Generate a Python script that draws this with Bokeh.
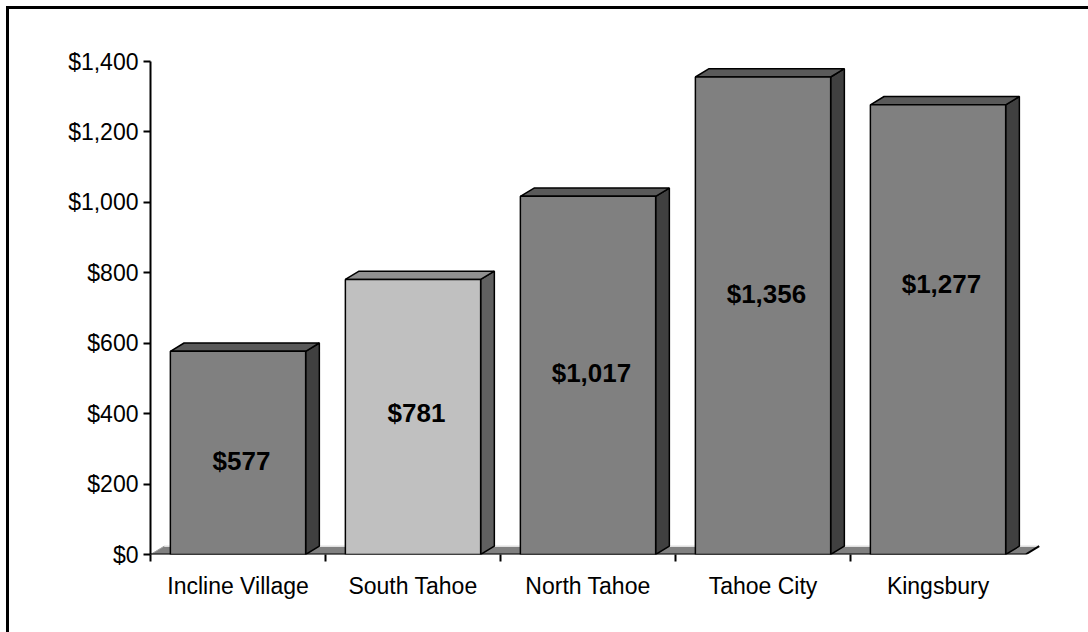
from bokeh.plotting import figure
from bokeh.models import FixedTicker, NumeralTickFormatter, Range1d, ColumnDataSource
from bokeh.core.properties import value
from bokeh.embed import file_html
from bokeh.resources import INLINE

categories = ["Incline Village", "South Tahoe", "North Tahoe", "Tahoe City", "Kingsbury"]
values = [577, 781, 1017, 1356, 1277]
value_labels = ["$577", "$781", "$1,017", "$1,356", "$1,277"]
front_colors = ["#808080", "#C0C0C0", "#808080", "#808080", "#808080"]
side_colors = ["#404040", "#606060", "#404040", "#404040", "#404040"]
top_colors = ["#5A5A5A", "#909090", "#5A5A5A", "#5A5A5A", "#5A5A5A"]
y_ticks = [0, 200, 400, 600, 800, 1000, 1200, 1400]

W, H = 1088, 632
ML, MR, MT, MB = 150, 46, 61, 78
n = len(categories)
x_end = 5.097
px_x = (W - ML - MR) / x_end
px_y = (H - MT - MB) / 1400.0
dx = 13.7 / px_x
dy = 8.3 / px_y
hw = 0.3865

p = figure(width=W, height=H, output_backend="svg", toolbar_location=None,
           x_range=Range1d(0, x_end), y_range=Range1d(0, 1400),
           min_border_left=ML, min_border_right=MR, min_border_top=MT, min_border_bottom=MB)
p.outline_line_color = None
p.xgrid.visible = False
p.ygrid.visible = False
p.background_fill_color = None
p.border_fill_color = None
# outer frame of the chart (left and top edges visible, the rest runs past the picture)
p.styles = {
    "background-color": "white",
    "background-image": "linear-gradient(black, black), linear-gradient(black, black)",
    "background-size": "3px 2000px, 2000px 3px",
    "background-position": "6px 6px, 6px 6px",
    "background-repeat": "no-repeat",
}

FONT = "Liberation Sans"

# y axis
p.yaxis.ticker = FixedTicker(ticks=y_ticks)
p.yaxis.formatter = NumeralTickFormatter(format="$0,0")
p.yaxis.major_tick_out = 7
p.yaxis.major_tick_in = 0
p.yaxis.minor_tick_line_color = None
p.yaxis.axis_line_width = 2
p.yaxis.major_tick_line_width = 2
p.yaxis.axis_line_color = "black"
p.yaxis.major_label_text_font = FONT
p.yaxis.major_label_text_font_size = "23px"
p.yaxis.major_label_text_color = "black"
p.yaxis.major_label_standoff = 5

# x axis
centers = [i + 0.5 for i in range(n)]
p.xaxis.ticker = FixedTicker(ticks=centers, minor_ticks=list(range(n)))
p.xaxis.major_label_overrides = {c: cat for c, cat in zip(centers, categories)}
p.xaxis.major_tick_out = 0
p.xaxis.major_tick_in = 0
p.xaxis.minor_tick_out = 7
p.xaxis.minor_tick_in = 0
p.xaxis.minor_tick_line_width = 2
p.xaxis.minor_tick_line_color = "black"
p.xaxis.axis_line_color = None
p.xaxis.major_label_text_font = FONT
p.xaxis.major_label_text_font_size = "23px"
p.xaxis.major_label_text_color = "black"
p.xaxis.major_label_standoff = 11

# floor
p.patch(x=[0, n, n + dx, dx], y=[0, 0, dy, dy], fill_color="#808080", line_color=None)
p.line(x=[dx, n + dx], y=[dy, dy], line_color="#E0E0E0", line_width=1.5)
p.line(x=[0, dx], y=[0, dy], line_color="#A0A0A0", line_width=1)
p.line(x=[0, n, n + dx], y=[0, 0, dy], line_color="black", line_width=2)

lefts = [c - hw for c in centers]
rights = [c + hw for c in centers]

side_src = ColumnDataSource(dict(
    xs=[[r, r + dx, r + dx, r] for r in rights],
    ys=[[0, dy, v + dy, v] for v in values],
    color=side_colors))
top_src = ColumnDataSource(dict(
    xs=[[l, l + dx, r + dx, r] for l, r in zip(lefts, rights)],
    ys=[[v, v + dy, v + dy, v] for v in values],
    color=top_colors))
front_src = ColumnDataSource(dict(left=lefts, right=rights, top=values, color=front_colors))

p.patches(xs="xs", ys="ys", fill_color="color", line_color="black", line_width=1.5, source=side_src)
p.patches(xs="xs", ys="ys", fill_color="color", line_color="black", line_width=1.5, source=top_src)
p.quad(left="left", right="right", bottom=0, top="top", fill_color="color", line_color="black",
       line_width=1.5, source=front_src)

# value labels sit roughly mid-bar; small per-label screen nudges as placed in the original
label_nudge_px = [8, -4, -2, -22, -46]
lab_src = ColumnDataSource(dict(x=[c + dx / 4 for c in centers], y=[v / 2 for v in values],
                                t=value_labels, yo=label_nudge_px))
p.text(x="x", y="y", text="t", source=lab_src, y_offset="yo", text_align="center", text_baseline="middle",
       text_font=value(FONT), text_font_style="bold", text_font_size="26px", text_color="black")

open("out.html", "w").write(file_html(p, INLINE))
